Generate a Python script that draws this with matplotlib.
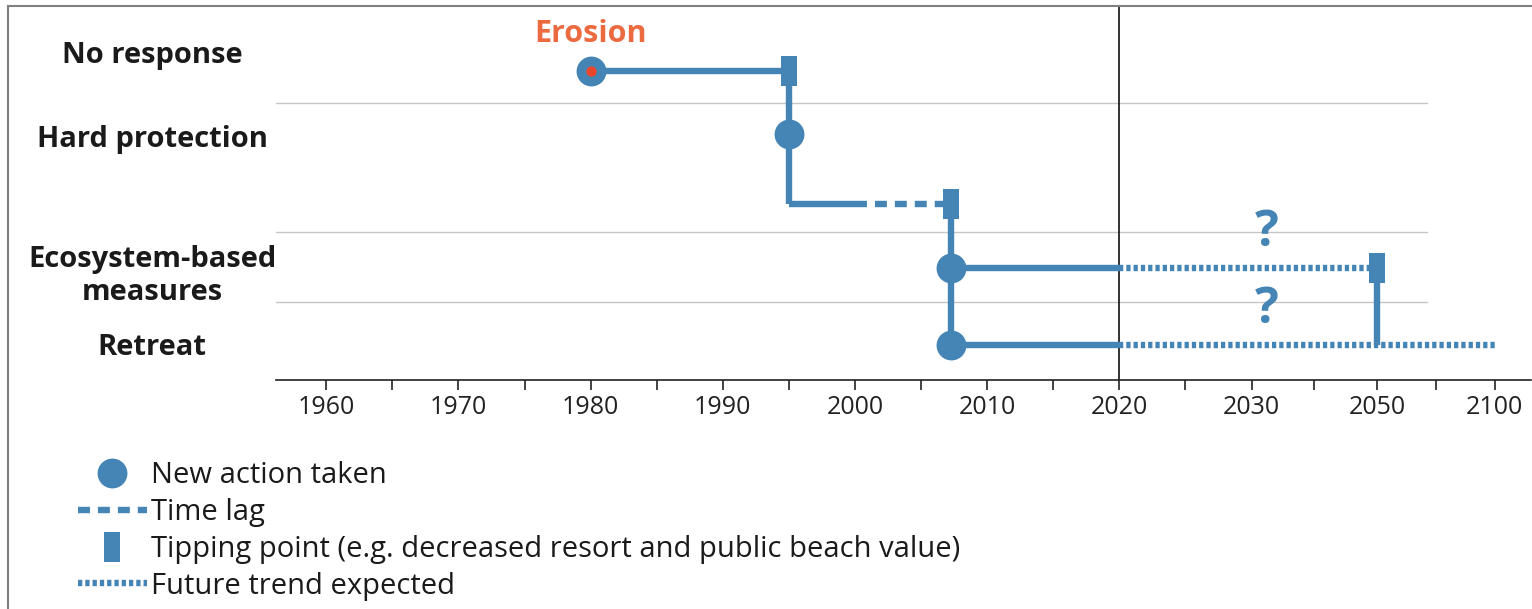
import numpy as np
import matplotlib
matplotlib.use("Agg")
import matplotlib.pyplot as plt
from matplotlib.lines import Line2D
import matplotlib.transforms as mtransforms

plt.rcParams['font.family'] = ['Open Sans', 'DejaVu Sans']

# ---- data ----
rows = ['No response', 'Hard protection', 'Ecosystem-based\nmeasures', 'Retreat']
major_years = [1960, 1970, 1980, 1990, 2000, 2010, 2020, 2030, 2050, 2100]
minor_years = [1965, 1975, 1985, 1995, 2005, 2015, 2025, 2040, 2075]

erosion_year = 1980
action_years = [1980, 1995, 2007.3, 2007.3]       # circles, one per row
tipping_years = [1995, 2007.3, 2050]              # no response / time lag / ecosystem
lag_start, lag_end = 2000, 2007.3
present_year = 2020
eco_future_end = 2050
retreat_future_end = 2100
question_year = 2032.5

# ---- layout ----
# uneven time axis: 2020 onward compressed
anchor_years = [1950, 1960, 2020, 2030, 2050, 2100, 2150]
anchor_pos = [-1.0, 0.0, 6.0, 7.0, 7.95, 8.84, 9.73]
fwd = lambda y: np.interp(y, anchor_years, anchor_pos)
inv = lambda p: np.interp(p, anchor_pos, anchor_years)

# row levels (axis units, top=6 bottom=380)
lvl_none, lvl_hard, lvl_lag, lvl_eco, lvl_ret = 71, 134, 204, 268, 345
action_lvls = [lvl_none, lvl_hard, lvl_eco, lvl_ret]
tipping_lvls = [lvl_none, lvl_lag, lvl_eco]
label_lvls = [55, 139, 276, 348]
grid_lvls = [103, 232, 302]

blue = '#4585b5'
orange = '#ec6a3f'
lw = 4.6
tip_marker = [(-0.26, -0.5), (0.26, -0.5), (0.26, 0.5), (-0.26, 0.5), (-0.26, -0.5)]

W, H = 1532, 609
fig = plt.figure(figsize=(W / 100, H / 100), dpi=100)
ax = fig.add_axes([276 / W, (H - 380) / H, 1255 / W, 374 / H])
ax.set_xscale('function', functions=(fwd, inv))
ax.set_xlim(1956.2, 2115.4)
ax.set_ylim(380, 6)

for s in ['top', 'right', 'left']:
    ax.spines[s].set_visible(False)
ax.spines['bottom'].set_linewidth(1.2)
ax.spines['bottom'].set_color('#222222')
ax.set_yticks([])
ax.set_xticks(major_years)
ax.set_xticklabels([str(y) for y in major_years])
ax.set_xticks(minor_years, minor=True)
ax.tick_params(axis='x', which='both', direction='out', length=7, width=1.2,
               color='#222222', labelsize=18, pad=4, labelcolor='#222222')

for g in grid_lvls:
    ax.axhline(g, xmin=0, xmax=0.917, color='#c6c6c6', lw=1.0, zorder=1)
ax.axvline(present_year, color='#222222', lw=1.3, zorder=2)

kw = dict(color=blue, lw=lw, solid_capstyle='butt', zorder=3)
# no response -> tipping
ax.plot([erosion_year, tipping_years[0]], [lvl_none, lvl_none], **kw)
ax.plot([tipping_years[0], tipping_years[0]], [lvl_none, lvl_lag], **kw)
# time lag
ax.plot([tipping_years[0], lag_start], [lvl_lag, lvl_lag], **kw)
ax.plot([lag_start, lag_end], [lvl_lag, lvl_lag], color=blue, lw=lw,
        dashes=(1.87, 1.25), dash_capstyle='butt', zorder=3)
ax.plot([lag_end, lag_end], [lvl_lag, lvl_ret], **kw)
# ecosystem / retreat until present
ax.plot([action_years[2], present_year], [lvl_eco, lvl_eco], **kw)
ax.plot([action_years[3], present_year], [lvl_ret, lvl_ret], **kw)
# future trends
dot_kw = dict(color=blue, lw=lw, dashes=(0.67, 0.47), dash_capstyle='butt', zorder=3)
ax.plot([present_year, eco_future_end], [lvl_eco, lvl_eco], **dot_kw)
ax.plot([present_year, retreat_future_end], [lvl_ret, lvl_ret], **dot_kw)
ax.plot([tipping_years[2], tipping_years[2]], [lvl_eco, lvl_ret], **kw)

# markers
ax.plot(action_years, action_lvls, 'o', color=blue, ms=21.5, mew=0, zorder=4)
ax.plot(tipping_years, tipping_lvls, marker=tip_marker, ls='none', color=blue,
        ms=21, mew=0, zorder=4)
ax.plot([erosion_year], [lvl_none], 'o', color='#e8472c', ms=7.5, mew=0, zorder=5)

ax.text(erosion_year, 34, 'Erosion', color=orange, fontsize=22, fontweight='bold',
        ha='center', va='center')
for q in [233, 310]:
    ax.text(question_year, q, '?', color=blue, fontsize=36, fontweight='bold',
            ha='center', va='center')

trans = mtransforms.blended_transform_factory(ax.transAxes, ax.transData)
for name, y in zip(rows, label_lvls):
    ax.text(-0.0988, y, name, transform=trans, ha='center', va='center',
            fontsize=21, fontweight='bold', color='#1a1a1a', linespacing=1.15)

# frame of the original figure panel
fig.add_artist(Line2D([8 / W, 1.0], [1 - 6 / H, 1 - 6 / H], color='#808080', lw=1.5))
fig.add_artist(Line2D([8 / W, 8 / W], [0.0, 1 - 6 / H], color='#808080', lw=1.5))

handles = [
    Line2D([], [], ls='none', marker='o', ms=21.5, mew=0, color=blue),
    Line2D([], [], color=blue, lw=lw, dashes=(1.87, 1.25), dash_capstyle='butt'),
    Line2D([], [], ls='none', marker=tip_marker, ms=21, mew=0, color=blue),
    Line2D([], [], color=blue, lw=lw, dashes=(0.67, 0.47), dash_capstyle='butt'),
]
labels = ['New action taken', 'Time lag',
          'Tipping point (e.g. decreased resort and public beach value)',
          'Future trend expected']
fig.legend(handles, labels, loc='upper left', bbox_to_anchor=(78 / W, 1 - 461 / H),
           frameon=False, fontsize=21, handlelength=2.35, handletextpad=0.15,
           labelspacing=0.27, borderpad=0, borderaxespad=0, labelcolor='#1a1a1a')

fig.savefig('out.png', dpi=100)
